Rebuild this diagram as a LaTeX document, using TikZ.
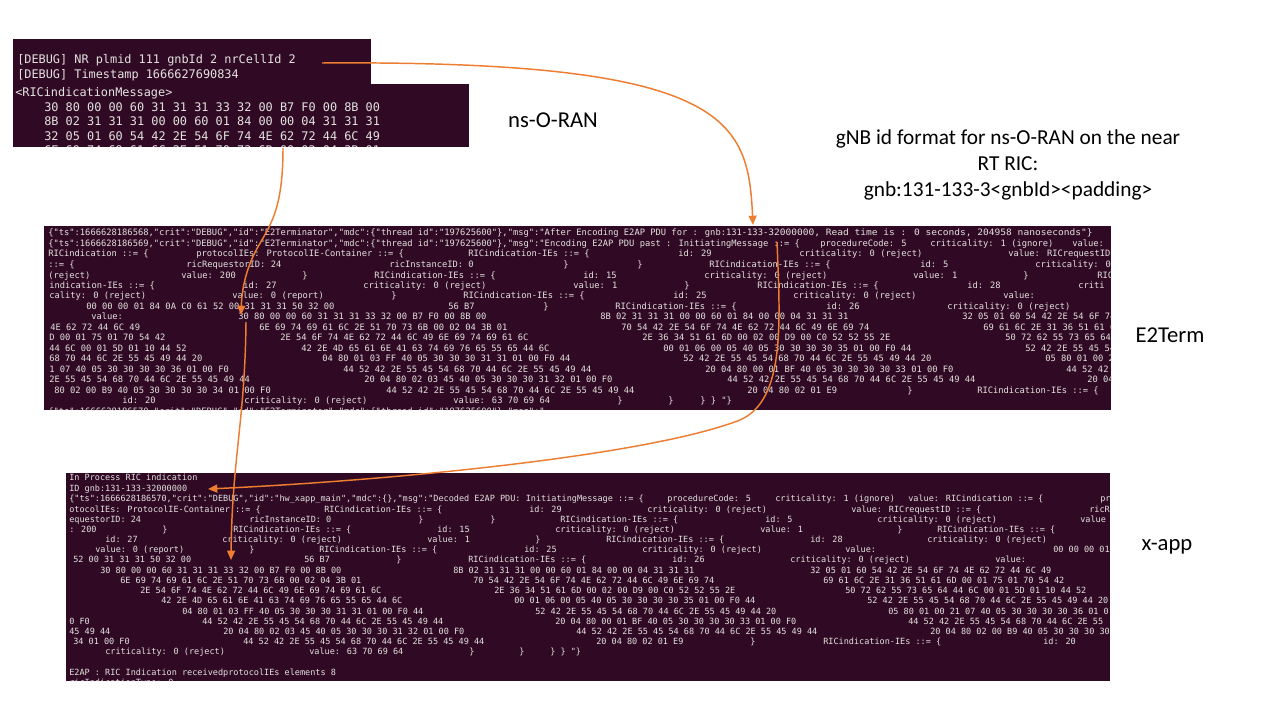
\documentclass[tikz,border=0pt]{standalone}
\usepackage{fontspec}
\usetikzlibrary{arrows.meta,fit}
\newfontfamily\termfont{DejaVu Sans Mono}
\newfontfamily\labelfont{Carlito}
\definecolor{termbg}{RGB}{48,10,36}
\definecolor{termfg}{RGB}{228,226,223}
\definecolor{arrowc}{RGB}{237,125,49}
\tikzset{
  panel/.style={fill=termbg, draw=none, inner sep=0pt},
  tt/.style={anchor=base west, inner sep=0pt, text=termfg},
  flow/.style={draw=arrowc, line width=1.1pt, -{Triangle[length=7pt,width=6pt]}},
  lbl/.style={font=\labelfont\fontsize{17}{20}\selectfont, text=black, inner sep=0pt},
}
\newcommand\Tl[3]{\node[tt,font=\termfont\fontsize{8.9}{10}\selectfont] at (#1,#2+4) {#3};}
\newcommand\El[3]{\node[tt,font=\termfont\fontsize{6.58}{8}\selectfont] at (#1,#2+3) {#3};}
\newcommand\Xl[3]{\node[tt,font=\termfont\fontsize{6.39}{8}\selectfont] at (#1,#2+3) {#3};}
\begin{document}
\begin{tikzpicture}[x=0.75pt,y=-0.75pt]
\useasboundingbox (0,0) rectangle (1280,720);

% ---------- ns-O-RAN terminal ----------
\node[panel, fit={(13,39) (371,84)}] (dbg) {};
\begin{scope}
\clip (13,39) rectangle (371,84);
\Tl{17}{60}{[DEBUG] NR plmid 111 gnbId 2 nrCellId 2}
\Tl{17}{74.3}{[DEBUG] Timestamp 1666627690834}
\end{scope}
\node[panel, fit={(13,84) (469,147)}] (ricmsg) {};
\begin{scope}
\clip (13,84) rectangle (469,147);
\Tl{15}{92.7}{<RICindicationMessage>}
\Tl{44}{107.7}{30 80 00 00 60 31 31 31 33 32 00 B7 F0 00 8B 00}
\Tl{44}{122}{8B 02 31 31 31 00 00 60 01 84 00 00 04 31 31 31}
\Tl{44}{136.3}{32 05 01 60 54 42 2E 54 6F 74 4E 62 72 44 6C 49}
\Tl{44}{150.6}{6E 69 74 69 61 6C 2E 51 70 73 6B 00 02 04 3B 01}
\end{scope}

% ---------- E2Term terminal ----------
\node[panel, fit={(44,226) (1111,410)}] (e2term) {};
\begin{scope}
\clip (44,226) rectangle (1111,410);
\El{48}{233}{\{"ts":1666628186568,"crit":"DEBUG","id":"E2Terminator","mdc":\{"thread id":"197625600"\},"msg":"After Encoding E2AP PDU for : gnb:131-133-}
\El{768}{233}{\scalebox{1.09}[1]{32000000, Read time is : 0 seconds, 204958 nanoseconds"\}}}
\El{48}{243.5}{\{"ts":1666628186569,"crit":"DEBUG","id":"E2Terminator","mdc":\{"thread id":"197625600"\},"msg":"Encoding E2AP PDU past : InitiatingMessage ::= \{}
\El{820}{243.5}{procedureCode: 5}
\El{930}{243.5}{criticality: 1 (ignore)}
\El{1072}{243.5}{value:}
\El{48}{254}{RICindication ::= \{}
\El{196}{254}{protocolIEs: ProtocolIE-Container ::= \{}
\El{468}{254}{RICindication-IEs ::= \{}
\El{678}{254}{id: 29}
\El{799}{254}{criticality: 0 (reject)}
\El{1008}{254}{value: RICrequestID}
\El{48}{264.5}{::= \{}
\El{186}{264.5}{ricRequestorID: 24}
\El{389}{264.5}{ricInstanceID: 0}
\El{563}{264.5}{\}}
\El{637}{264.5}{\}}
\El{709}{264.5}{RICindication-IEs ::= \{}
\El{920}{264.5}{id: 5}
\El{1035}{264.5}{criticality: 0}
\El{48}{275}{(reject)}
\El{181}{275}{value: 200}
\El{302}{275}{\}}
\El{374}{275}{RICindication-IEs ::= \{}
\El{583}{275}{id: 15}
\El{704}{275}{criticality: 0 (reject)}
\El{913}{275}{value: 1}
\El{1023}{275}{\}}
\El{1097}{275}{RIC}
\El{49}{285.5}{indication-IEs ::= \{}
\El{243}{285.5}{id: 27}
\El{363}{285.5}{criticality: 0 (reject)}
\El{573}{285.5}{value: 1}
\El{684}{285.5}{\}}
\El{757}{285.5}{RICindication-IEs ::= \{}
\El{967}{285.5}{id: 28}
\El{1078}{285.5}{criti}
\El{49}{295.5}{cality: 0 (reject)}
\El{232}{295.5}{value: 0 (report)}
\El{391}{295.5}{\}}
\El{463}{295.5}{RICindication-IEs ::= \{}
\El{673}{295.5}{id: 25}
\El{793}{295.5}{criticality: 0 (reject)}
\El{1003}{295.5}{value:}
\El{86}{306}{00 00 00 01 84 0A C0 61 52 00 31 31 31 50 32 00}
\El{448}{306}{56 B7}
\El{543}{306}{\}}
\El{615}{306}{RICindication-IEs ::= \{}
\El{826}{306}{id: 26}
\El{947}{306}{criticality: 0 (reject)}
\El{91}{316.5}{value:}
\El{238}{316.5}{30 80 00 00 60 31 31 31 33 32 00 B7 F0 00 8B 00}
\El{600}{316.5}{8B 02 31 31 31 00 00 60 01 84 00 00 04 31 31 31}
\El{962}{316.5}{32 05 01 60 54 42 2E 54 6F 74}
\El{50}{327}{4E 62 72 44 6C 49}
\El{259}{327}{6E 69 74 69 61 6C 2E 51 70 73 6B 00 02 04 3B 01}
\El{621}{327}{70 54 42 2E 54 6F 74 4E 62 72 44 6C 49 6E 69 74}
\El{983}{327}{69 61 6C 2E 31 36 51 61 6}
\El{49}{337.5}{D 00 01 75 01 70 54 42}
\El{280}{337.5}{2E 54 6F 74 4E 62 72 44 6C 49 6E 69 74 69 61 6C}
\El{642}{337.5}{2E 36 34 51 61 6D 00 02 00 D9 00 C0 52 52 55 2E}
\El{1005}{337.5}{50 72 62 55 73 65 64}
\El{49}{348}{44 6C 00 01 5D 01 10 44 52}
\El{301}{348}{42 2E 4D 65 61 6E 41 63 74 69 76 65 55 65 44 6C}
\El{663}{348}{00 01 06 00 05 40 05 30 30 30 30 35 01 00 F0 44}
\El{1025}{348}{52 42 2E 55 45 54}
\El{49}{358.5}{68 70 44 6C 2E 55 45 49 44 20}
\El{322}{358.5}{04 80 01 03 FF 40 05 30 30 30 31 31 01 00 F0 44}
\El{683}{358.5}{52 42 2E 55 45 54 68 70 44 6C 2E 55 45 49 44 20}
\El{1045}{358.5}{05 80 01 00 2}
\El{49}{369}{1 07 40 05 30 30 30 30 36 01 00 F0}
\El{343}{369}{44 52 42 2E 55 45 54 68 70 44 6C 2E 55 45 49 44}
\El{705}{369}{20 04 80 00 01 BF 40 05 30 30 30 30 33 01 00 F0}
\El{1066}{369}{44 52 42}
\El{49}{379.5}{2E 55 45 54 68 70 44 6C 2E 55 45 49 44}
\El{364}{379.5}{20 04 80 02 03 45 40 05 30 30 30 31 32 01 00 F0}
\El{727}{379.5}{44 52 42 2E 55 45 54 68 70 44 6C 2E 55 45 49 44}
\El{1087}{379.5}{20 04}
\El{54}{390}{80 02 00 B9 40 05 30 30 30 30 34 01 00 F0}
\El{386}{390}{44 52 42 2E 55 45 54 68 70 44 6C 2E 55 45 49 44}
\El{747}{390}{20 04 80 02 01 E9}
\El{907}{390}{\}}
\El{977}{390}{RICindication-IEs ::= \{}
\El{122}{400.5}{id: 20}
\El{244}{400.5}{criticality: 0 (reject)}
\El{453}{400.5}{value: 63 70 69 64}
\El{617}{400.5}{\}}
\El{668}{400.5}{\}}
\El{700}{400.5}{\} \} "\}}
\El{48}{411}{\{"ts":1666628186570,"crit":"DEBUG","id":"E2Terminator","mdc":\{"thread id":"197625600"\},"msg":"}
\end{scope}

% ---------- x-app terminal ----------
\node[panel, fit={(66,473) (1110,681)}] (xapp) {};
\begin{scope}
\clip (66,473) rectangle (1110,681);
\Xl{69}{477.5}{In Process RIC indication}
\Xl{69}{488}{ID gnb:131-133-32000000}
\Xl{69}{498.5}{\{"ts":1666628186570,"crit":"DEBUG","id":"hw\_xapp\_main","mdc":\{\},"msg":"Decoded E2AP PDU: InitiatingMessage ::= \{}
\Xl{667}{498.5}{procedureCode: 5}
\Xl{775}{498.5}{criticality: 1 (ignore)}
\Xl{908}{498.5}{value: RICindication ::= \{}
\Xl{1100}{498.5}{pr}
\Xl{69}{509}{otocolIEs: ProtocolIE-Container ::= \{}
\Xl{324}{509}{RICindication-IEs ::= \{}
\Xl{529}{509}{id: 29}
\Xl{647}{509}{criticality: 0 (reject)}
\Xl{851}{509}{value: RICrequestID ::= \{}
\Xl{1089}{509}{ricR}
\Xl{69}{519}{equestorID: 24}
\Xl{249}{519}{ricInstanceID: 0}
\Xl{418}{519}{\}}
\Xl{490}{519}{\}}
\Xl{560}{519}{RICindication-IEs ::= \{}
\Xl{765}{519}{id: 5}
\Xl{877}{519}{criticality: 0 (reject)}
\Xl{1080}{519}{value}
\Xl{69}{529.5}{: 200}
\Xl{162}{529.5}{\}}
\Xl{233}{529.5}{RICindication-IEs ::= \{}
\Xl{437}{529.5}{id: 15}
\Xl{555}{529.5}{criticality: 0 (reject)}
\Xl{760}{529.5}{value: 1}
\Xl{897}{529.5}{\}}
\Xl{937}{529.5}{RICindication-IEs ::= \{}
\Xl{105}{539.5}{id: 27}
\Xl{222}{539.5}{criticality: 0 (reject)}
\Xl{427}{539.5}{value: 1}
\Xl{535}{539.5}{\}}
\Xl{606}{539.5}{RICindication-IEs ::= \{}
\Xl{810}{539.5}{id: 28}
\Xl{927}{539.5}{criticality: 0 (reject)}
\Xl{95}{549.5}{value: 0 (report)}
\Xl{249}{549.5}{\}}
\Xl{319}{549.5}{RICindication-IEs ::= \{}
\Xl{524}{549.5}{id: 25}
\Xl{642}{549.5}{criticality: 0 (reject)}
\Xl{845}{549.5}{value:}
\Xl{1053}{549.5}{00 00 00 01 84 0A C0 61}
\Xl{73}{559.5}{52 00 31 31 31 50 32 00}
\Xl{304}{559.5}{56 B7}
\Xl{396}{559.5}{\}}
\Xl{468}{559.5}{RICindication-IEs ::= \{}
\Xl{672}{559.5}{id: 26}
\Xl{790}{559.5}{criticality: 0 (reject)}
\Xl{995}{559.5}{value:}
\Xl{100}{570}{30 80 00 00 60 31 31 31 33 32 00 B7 F0 00 8B 00}
\Xl{453}{570}{8B 02 31 31 31 00 00 60 01 84 00 00 04 31 31 31}
\Xl{810}{570}{32 05 01 60 54 42 2E 54 6F 74 4E 62 72 44 6C 49}
\Xl{120}{580}{6E 69 74 69 61 6C 2E 51 70 73 6B 00 02 04 3B 01}
\Xl{473}{580}{70 54 42 2E 54 6F 74 4E 62 72 44 6C 49 6E 69 74}
\Xl{823}{580}{69 61 6C 2E 31 36 51 61 6D 00 01 75 01 70 54 42}
\Xl{140}{590}{2E 54 6F 74 4E 62 72 44 6C 49 6E 69 74 69 61 6C}
\Xl{494}{590}{2E 36 34 51 61 6D 00 02 00 D9 00 C0 52 52 55 2E}
\Xl{845}{590}{50 72 62 55 73 65 64 44 6C 00 01 5D 01 10 44 52}
\Xl{161}{600.5}{42 2E 4D 65 61 6E 41 63 74 69 76 65 55 65 44 6C}
\Xl{514}{600.5}{00 01 06 00 05 40 05 30 30 30 30 35 01 00 F0 44}
\Xl{867}{600.5}{52 42 2E 55 45 54 68 70 44 6C 2E 55 45 49 44 20}
\Xl{182}{611}{04 80 01 03 FF 40 05 30 30 30 31 31 01 00 F0 44}
\Xl{535}{611}{52 42 2E 55 45 54 68 70 44 6C 2E 55 45 49 44 20}
\Xl{888}{611}{05 80 01 00 21 07 40 05 30 30 30 30 36 01 0}
\Xl{69}{621}{0 F0}
\Xl{202}{621}{44 52 42 2E 55 45 54 68 70 44 6C 2E 55 45 49 44}
\Xl{555}{621}{20 04 80 00 01 BF 40 05 30 30 30 30 33 01 00 F0}
\Xl{908}{621}{44 52 42 2E 55 45 54 68 70 44 6C 2E 55}
\Xl{69}{631}{45 49 44}
\Xl{223}{631}{20 04 80 02 03 45 40 05 30 30 30 31 32 01 00 F0}
\Xl{576}{631}{44 52 42 2E 55 45 54 68 70 44 6C 2E 55 45 49 44}
\Xl{930}{631}{20 04 80 02 00 B9 40 05 30 30 30 30}
\Xl{73}{641.5}{34 01 00 F0}
\Xl{243}{641.5}{44 52 42 2E 55 45 54 68 70 44 6C 2E 55 45 49 44}
\Xl{596}{641.5}{20 04 80 02 01 E9}
\Xl{750}{641.5}{\}}
\Xl{823}{641.5}{RICindication-IEs ::= \{}
\Xl{1043}{641.5}{id: 20}
\Xl{105}{651.5}{criticality: 0 (reject)}
\Xl{309}{651.5}{value: 63 70 69 64}
\Xl{469}{651.5}{\}}
\Xl{519}{651.5}{\}}
\Xl{550}{651.5}{\} \} "\}}
\Xl{69}{672}{E2AP : RIC Indication receivedprotocolIEs elements 8}
\Xl{69}{682}{ricIndicationType: 0}
\end{scope}

% ---------- labels ----------
\node[lbl] (nsoran) at (553,120) {ns-O-RAN};
\node[lbl] (e2lbl) at (1170,335) {E2Term};
\node[lbl] (xlbl) at (1167,547) {x-app};
\node[font=\labelfont\fontsize{16}{19.5}\selectfont, align=center, inner sep=0pt] (gnbfmt) at (1008,165)
  {gNB id format for ns-O-RAN on the near\\RT RIC:\\gnb:131-133-3<gnbId><padding>};

% ---------- connectors ----------
\coordinate (a1s) at (322,63);
\coordinate (a1e) at (753,225);
\coordinate (a2s) at (283,148);
\coordinate (a2m) at (262,240);
\coordinate (a2e) at (241,315);
\coordinate (a3s) at (246,322);
\coordinate (a3e) at (231,560);
\coordinate (a4s) at (777,242);
\coordinate (a4m) at (740,420);
\coordinate (a4e) at (208,489);
\draw[flow] (a1s) .. controls (730,60) and (748,120) .. (a1e);
\draw[flow] (a2s) .. controls (283,205) and (272,222) .. (a2m) .. controls (248,262) and (242,285) .. (a2e);
\draw[flow] (a3s) .. controls (245,420) and (232,460) .. (a3e);
\draw[flow] (a4s) .. controls (780,320) and (786,400) .. (a4m) .. controls (650,455) and (400,480) .. (a4e);
\end{tikzpicture}
\end{document}
